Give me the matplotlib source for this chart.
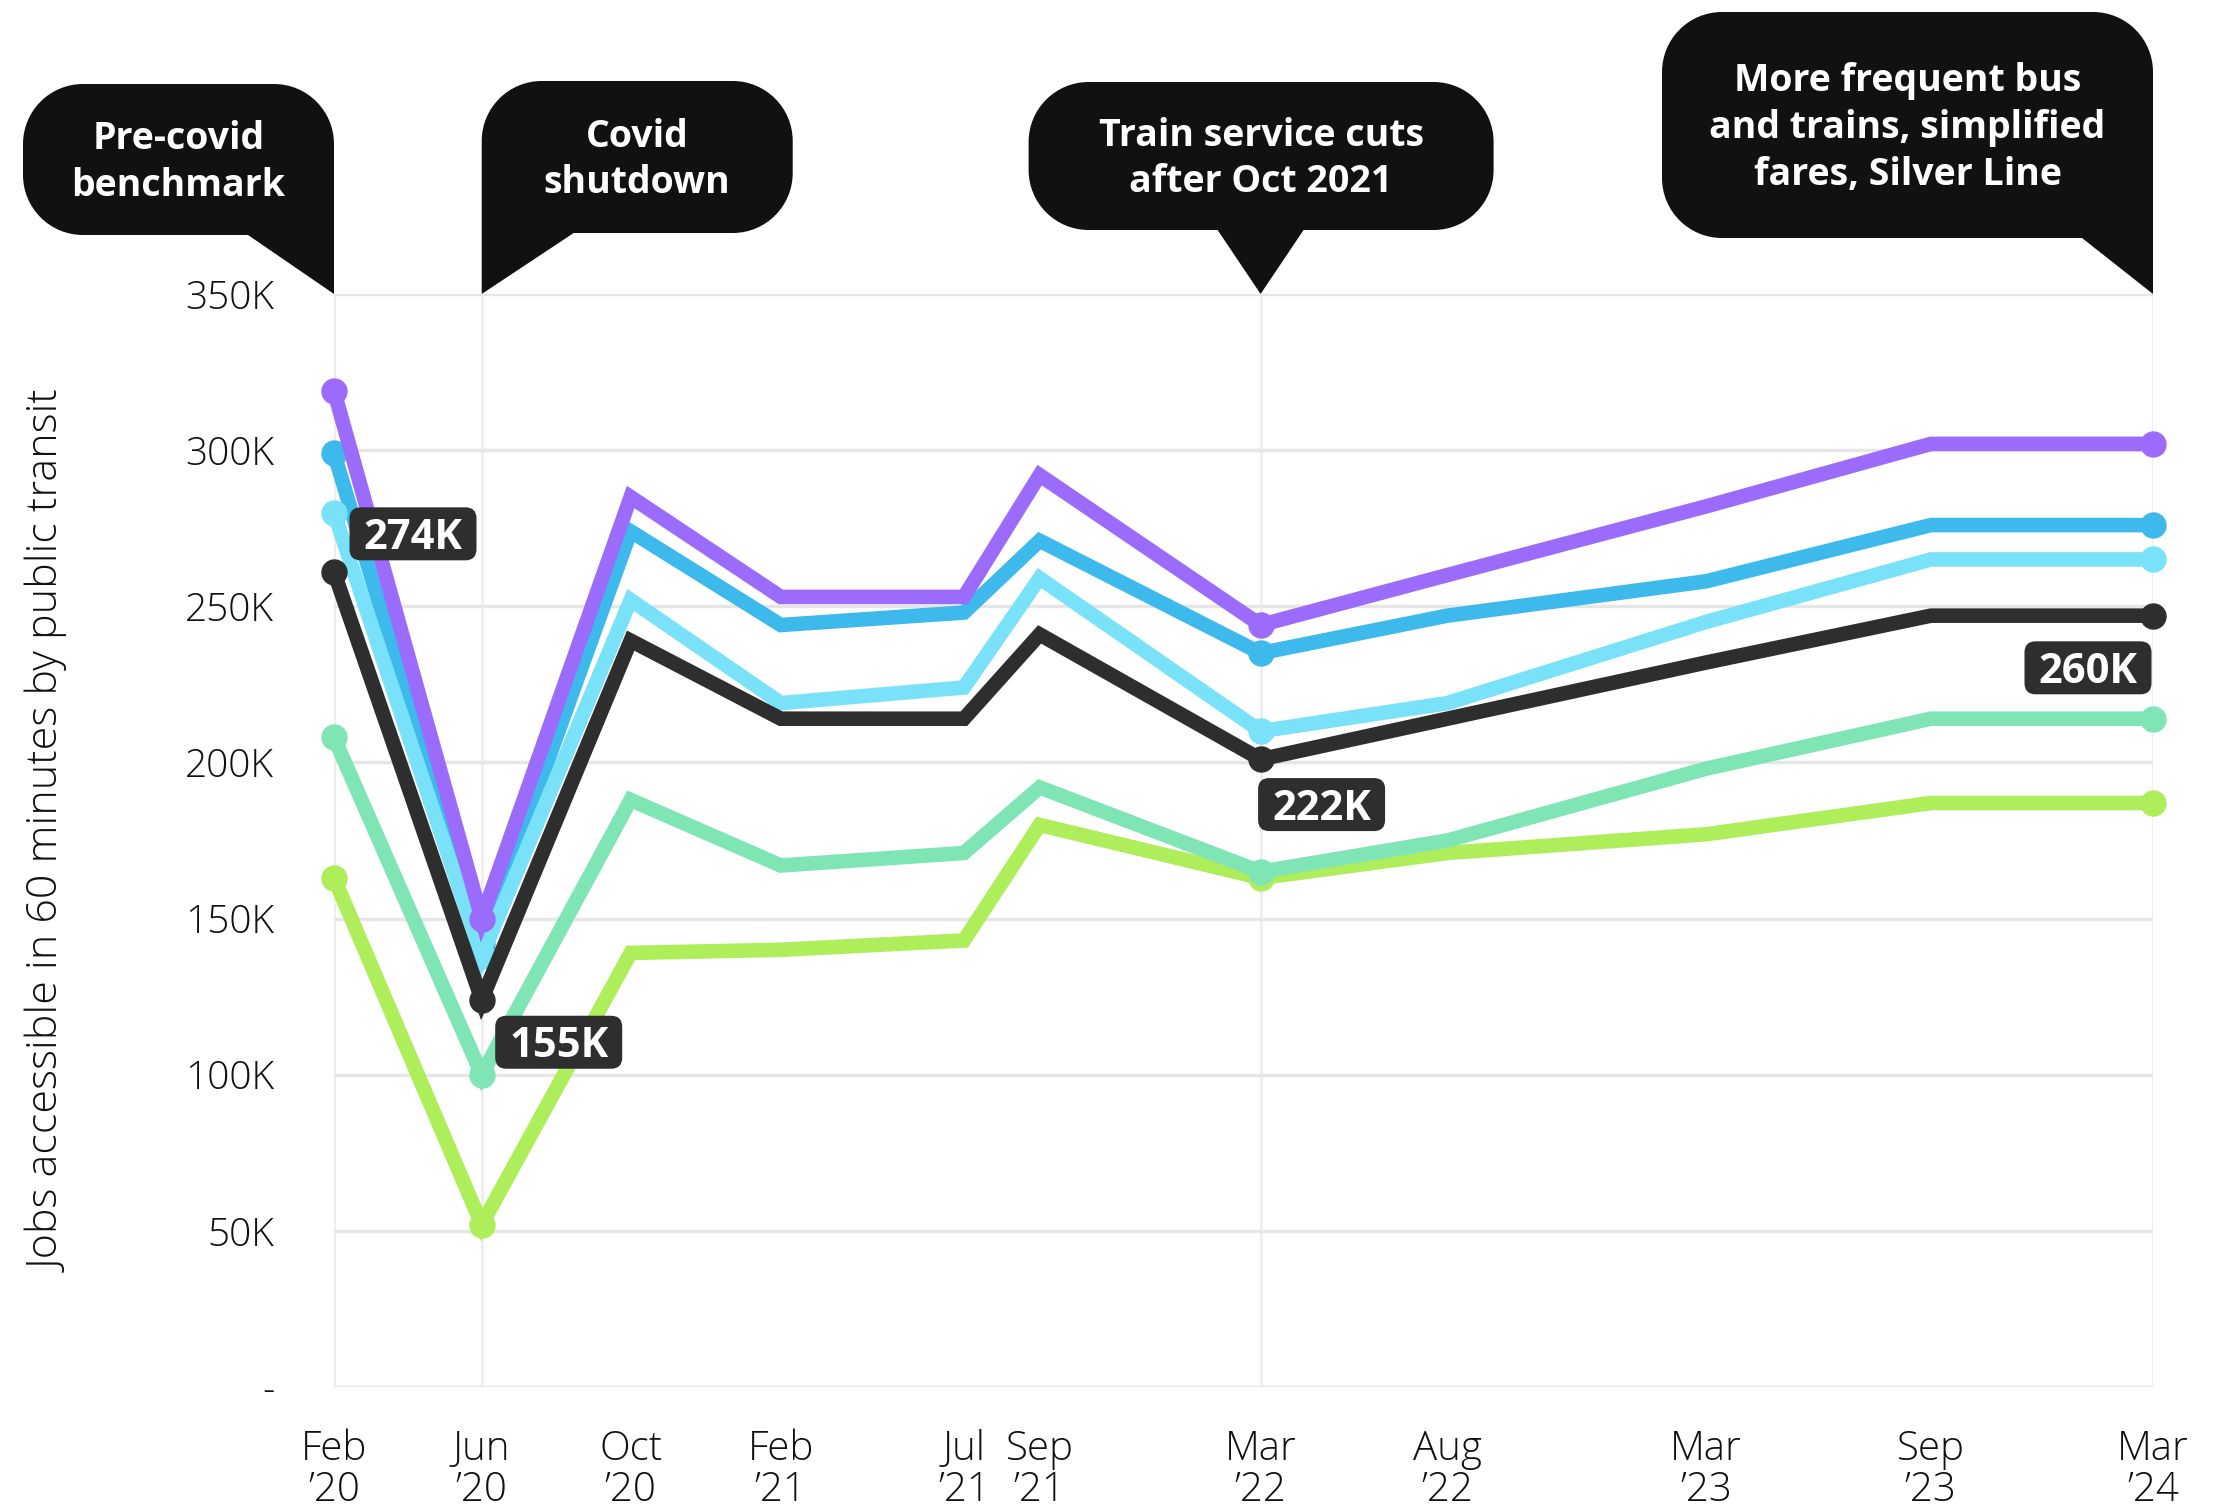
import matplotlib
matplotlib.use("Agg")
import matplotlib.pyplot as plt
import matplotlib.dates as mdates
from matplotlib.path import Path
from matplotlib.patches import PathPatch, FancyBboxPatch
from matplotlib.transforms import IdentityTransform
from datetime import date

plt.rcParams['font.family'] = ['Open Sans', 'DejaVu Sans']

### Data (values in jobs)
dates = [date(2020, 2, 1), date(2020, 6, 1), date(2020, 10, 1), date(2021, 2, 1),
         date(2021, 7, 1), date(2021, 9, 1), date(2022, 3, 1), date(2022, 8, 1),
         date(2023, 3, 1), date(2023, 9, 1), date(2024, 3, 1)]
tick_labels = ["Feb\n’20", "Jun\n’20", "Oct\n’20", "Feb\n’21", "Jul\n’21", "Sep\n’21",
               "Mar\n’22", "Aug\n’22", "Mar\n’23", "Sep\n’23", "Mar\n’24"]

lime = [163, 52, 139, 140, 143, 180, 163, 171, 177, 187, 187]
teal = [208, 100, 188, 167, 171, 192, 165, 175, 198, 214, 214]
blue = [299, 142, 274, 244, 248, 271, 235, 247, 258, 276, 276]
light_blue = [280, 138, 252, 219, 224, 259, 210, 219, 245, 265, 265]
black = [261, 124, 239, 214, 214, 241, 201, 214, 232, 247, 247]
purple = [319, 150, 285, 253, 253, 292, 244, 260, 282, 302, 302]

series = [(lime, "#AEEE5B"), (teal, "#80E5B5"), (blue, "#3DB9EC"),
          (light_blue, "#7AE2F8"), (black, "#2E2E2E"), (purple, "#9B6BFB")]

marked = [0, 1, 6, 10]  # dates with markers / vertical guides

yticks = [0, 50000, 100000, 150000, 200000, 250000, 300000, 350000]
ytick_labels = ["-", "50K", "100K", "150K", "200K", "250K", "300K", "350K"]

callouts = [
    (0, "Pre-covid\nbenchmark", "right"),
    (1, "Covid\nshutdown", "left"),
    (6, "Train service cuts\nafter Oct 2021", "center"),
    (10, "More frequent bus\nand trains, simplified\nfares, Silver Line", "right"),
]

# value labels: (date index, text, y position of label in data units, x offset px)
value_labels = [
    (0, "274K", 273200, 79),
    (1, "155K", 110400, 77),
    (6, "222K", 186500, 61),
    (10, "260K", 230300, -65),
]

W, H = 2228, 1507
fig = plt.figure(figsize=(W / 100, H / 100), dpi=100)
ax = fig.add_axes([334 / W, 1 - 1387 / H, (2153 - 334) / W, (1387 - 294) / H])

xnum = mdates.date2num(dates)

for i in marked:
    ax.axvline(xnum[i], color="#EEEEEE", lw=2, zorder=0)

for vals, col in series:
    ax.plot(xnum, [v * 1000 for v in vals], color=col, lw=10.5,
            solid_joinstyle="miter", marker="o", markersize=18,
            markevery=marked, mec=col, mfc=col, clip_on=False, zorder=3)

ax.set_xlim(xnum[0], xnum[-1])
ax.set_ylim(0, 350000)
ax.set_yticks(yticks)
ax.set_yticklabels(ytick_labels, fontweight="light")
ax.set_xticks(xnum)
ax.set_xticklabels(tick_labels, linespacing=1.0, fontweight="light")
ax.yaxis.grid(True, color="#E6E6E6", lw=2.5, zorder=0)
ax.set_axisbelow(True)
for s in ax.spines.values():
    s.set_visible(False)
ax.tick_params(axis="y", length=0, pad=43, labelsize=28, labelcolor="#111111")
ax.tick_params(axis="x", length=0, pad=30, labelsize=29, labelcolor="#111111")

fig.text(50 / W, 1 - 832 / H, "Jobs accessible in 60 minutes by public transit",
         rotation=90, ha="center", va="center", fontsize=31, fontweight="light",
         color="#111111")


### Speech bubbles, drawn in pixel coords
def bubble(x0, y0, x1, y1, r, tail, tip, tw):
    k = 0.5523
    verts, codes = [], []

    def mv(p):
        verts.append(p); codes.append(Path.MOVETO)

    def ln(p):
        verts.append(p); codes.append(Path.LINETO)

    def corner(c, b):
        a = verts[-1]
        verts.extend([(a[0] + k * (c[0] - a[0]), a[1] + k * (c[1] - a[1])),
                      (b[0] + k * (c[0] - b[0]), b[1] + k * (c[1] - b[1])), b])
        codes.extend([Path.CURVE4] * 3)

    tx, ty = tip
    if tail == "left":
        mv((x0, ty)); ln((x0 + tw, y0))
    else:
        mv((x0, y0 + r)); corner((x0, y0), (x0 + r, y0))
    if tail == "center":
        ln((tx - tw / 2, y0)); ln((tx, ty)); ln((tx + tw / 2, y0))
    if tail == "right":
        ln((x1 - tw, y0)); ln((x1, ty))
    else:
        ln((x1 - r, y0)); corner((x1, y0), (x1, y0 + r))
    ln((x1, y1 - r)); corner((x1, y1), (x1 - r, y1))
    ln((x0 + r, y1)); corner((x0, y1), (x0, y1 - r))
    verts.append(verts[0]); codes.append(Path.CLOSEPOLY)
    return Path(verts, codes)


# geometry: (left offset, right offset, top px, bottom px, tail width)
geom = {
    0: (-311, 0, 84, 235, 86),
    1: (0, 311, 81, 233, 92),
    6: (-232, 233, 82, 230, 86),
    10: (-491, 0, 12, 238, 71),
}

for idx, txt, tail in callouts:
    tx, ty = ax.transData.transform((xnum[idx], 350000))
    lo, ro, top, bot, tw = geom[idx]
    x0, x1 = tx + lo, tx + ro
    y1, y0 = H - top, H - bot
    p = bubble(x0, y0, x1, y1, 60, tail, (tx, ty), tw)
    fig.patches.append(PathPatch(p, fc="#111111", ec="none",
                                 transform=IdentityTransform(), figure=fig))
    fig.text((x0 + x1) / 2 / W, (y0 + y1) / 2 / H - 0.002, txt, ha="center", va="center",
             fontsize=27, fontweight="bold", color="white", linespacing=1.3)

### Value label boxes
bw, bh = 127, 53
for idx, txt, yv, dx in value_labels:
    cx, cy = ax.transData.transform((xnum[idx], yv))
    cx += dx
    fig.patches.append(FancyBboxPatch((cx - bw / 2, cy - bh / 2), bw, bh,
                                      boxstyle="round,pad=0,rounding_size=11",
                                      fc="#2E2E2E", ec="none",
                                      transform=IdentityTransform(), figure=fig, zorder=5))
    fig.text(cx / W, (cy - 15) / H, txt, ha="center", va="baseline",
             fontsize=30, fontweight="bold", color="white", zorder=6)

fig.savefig("out.png", dpi=100)
